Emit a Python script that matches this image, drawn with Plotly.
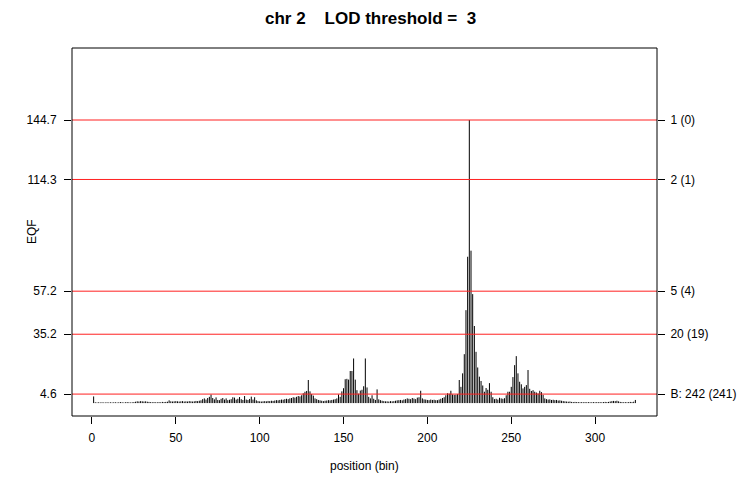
import plotly.graph_objects as go

# ---- data ----
bins = list(range(1, 325))
eqf = [
    3.4, 0.4, 0.3, 0.4, 0.3, 0.4, 0.3, 0.3, 0.4, 0.3,
    0.4, 0.3, 0.4, 0.4, 0.3, 0.4, 0.5, 0.4, 0.3, 0.4,
    0.5, 0.4, 0.3, 0.4, 0.5, 0.7, 0.9, 0.8, 1.0, 0.9,
    0.8, 0.9, 0.7, 0.6, 0.5, 0.4, 0.5, 0.4, 0.4, 0.5,
    0.4, 0.6, 0.5, 0.6, 0.7, 1.4, 0.9, 0.8, 0.9, 1.0,
    0.9, 0.8, 0.9, 1.0, 0.8, 0.9, 0.8, 1.0, 0.9, 0.8,
    0.9, 1.1, 1.0, 1.2, 1.4, 2.0, 2.4, 1.8, 2.6, 3.2,
    4.4, 2.6, 1.9, 2.9, 1.6, 1.5, 2.2, 2.6, 1.8, 2.4,
    1.5, 1.7, 2.0, 3.0, 2.8, 1.8, 2.2, 3.1, 2.0, 1.6,
    3.6, 1.8, 1.6, 2.1, 3.3, 1.8, 3.0, 1.4, 1.0, 0.9,
    0.8, 0.9, 1.0, 0.9, 1.1, 1.0, 1.2, 1.1, 1.3, 1.5,
    1.4, 1.6, 1.8, 1.7, 2.0, 2.2, 2.0, 2.4, 2.6, 3.0,
    2.8, 3.2, 3.6, 3.4, 4.0, 5.0, 5.8, 6.2, 11.8, 6.0,
    4.6, 3.8, 2.4, 2.0, 1.6, 1.4, 1.2, 1.0, 1.2, 1.3,
    1.5, 1.4, 1.6, 1.8, 2.0, 2.4, 4.4, 3.2, 6.0, 7.6,
    12.2, 12.4, 12.0, 16.4, 16.4, 22.8, 12.0, 6.6, 4.8, 6.4,
    6.8, 8.6, 22.8, 8.0, 3.2, 2.4, 4.0, 2.2, 1.6, 7.0,
    1.9, 1.5, 1.2, 1.0, 0.9, 0.9, 0.8, 1.0, 0.9, 1.0,
    1.2, 1.4, 1.5, 1.6, 1.4, 1.8, 2.0, 2.4, 2.2, 2.0,
    2.6, 2.3, 2.0, 2.8, 3.0, 6.3, 2.4, 1.9, 1.8, 1.6,
    1.5, 1.8, 1.6, 1.7, 1.5, 1.5, 1.8, 2.2, 2.6, 3.0,
    4.0, 5.0, 4.8, 6.3, 4.4, 4.2, 4.3, 4.6, 11.8, 8.3,
    15.2, 25.0, 47.5, 74.8, 144.7, 77.9, 55.7, 39.4, 26.2, 18.2,
    13.5, 11.3, 9.0, 5.8, 7.7, 6.8, 10.2, 5.8, 3.0, 2.0,
    2.2, 1.8, 2.7, 2.4, 2.2, 2.5, 4.0, 5.8, 5.8, 8.3,
    13.3, 19.4, 24.0, 15.2, 10.9, 9.6, 7.5, 8.3, 9.2, 16.9,
    7.3, 6.2, 6.6, 5.8, 5.4, 4.9, 6.3, 5.6, 4.2, 2.4,
    2.0, 1.8, 1.9, 1.6, 1.7, 1.5, 1.6, 1.3, 1.4, 1.2,
    1.0, 0.9, 0.8, 0.7, 0.8, 0.6, 0.5, 0.6, 0.5, 0.5,
    0.4, 0.5, 0.4, 0.5, 0.4, 0.5, 0.4, 0.4, 0.5, 0.4,
    0.5, 0.4, 0.5, 0.4, 0.5, 0.6, 0.5, 0.6, 0.8, 1.0,
    1.1, 1.0, 1.2, 0.9, 0.6, 0.5, 0.4, 0.5, 0.4, 0.5,
    0.6, 0.5, 0.7, 1.6,
]
thresholds = [144.7, 114.3, 57.2, 35.2, 4.6]
left_labels = ["144.7", "114.3", "57.2", "35.2", "4.6"]
right_labels = ["1 (0)", "2 (1)", "5 (4)", "20 (19)", "B: 242 (241)"]
x_ticks = [0, 50, 100, 150, 200, 250, 300]
title_text = "chr 2\u00a0\u00a0\u00a0 LOD threshold =\u00a0 3"

FONT = "Liberation Sans, Arial, sans-serif"
XR = [-11.9, 336.9]
YR = [-6.6, 181.5]

# vertical "h"-type lines
xs, ys = [], []
for b, v in zip(bins, eqf):
    xs += [b, b, None]
    ys += [0, v, None]

fig = go.Figure()
fig.add_trace(go.Scatter(x=xs, y=ys, mode="lines",
                         line=dict(color="black", width=1),
                         hoverinfo="skip", showlegend=False))

# threshold lines (abline) drawn on top as traces
hx, hy = [], []
for t in thresholds:
    hx += [XR[0], XR[1], None]
    hy += [t, t, None]
fig.add_trace(go.Scatter(x=hx, y=hy, mode="lines",
                         line=dict(color="#ff2020", width=1),
                         hoverinfo="skip", showlegend=False))

fig.add_trace(go.Scatter(x=[bins[0]], y=[thresholds[-1]], yaxis="y2",
                         mode="markers", marker=dict(opacity=0),
                         hoverinfo="skip", showlegend=False))

fig.update_layout(
    width=748, height=479,
    margin=dict(l=72, r=83, t=48, b=63),
    paper_bgcolor="white", plot_bgcolor="white",
    font=dict(family=FONT, size=12, color="black"),
    xaxis=dict(range=XR, tickvals=x_ticks, ticks="outside",
               ticklen=7, tickcolor="black", showgrid=False, zeroline=False,
               showline=False, ticklabelstandoff=4,
               tickfont=dict(family=FONT, size=12, color="black")),
    yaxis=dict(range=YR, tickvals=thresholds, ticktext=left_labels,
               ticks="outside", ticklen=7, tickcolor="black", showgrid=False,
               zeroline=False, showline=False, ticklabelstandoff=5,
               tickfont=dict(family=FONT, size=12, color="black")),
    yaxis2=dict(range=YR, overlaying="y", side="right", tickvals=thresholds,
                ticktext=right_labels, ticks="outside", ticklen=7,
                tickcolor="black", showgrid=False, zeroline=False,
                showline=False, ticklabelstandoff=3,
                tickfont=dict(family=FONT, size=12, color="black")),
)

fig.add_shape(type="rect", xref="paper", yref="paper", x0=0, x1=1,
              y0=0, y1=1, layer="above", line=dict(color="black", width=1))

fig.add_annotation(text="<b>" + title_text + "</b>", xref="paper", yref="paper",
                   x=0.5, y=1, xanchor="center", yanchor="middle", yshift=30,
                   xshift=6,
                   showarrow=False, font=dict(family=FONT, size=17, color="black"))
fig.add_annotation(text="position (bin)", xref="paper", yref="paper",
                   x=0.5, y=0, xanchor="center", yanchor="top", yshift=-41,
                   showarrow=False, font=dict(family=FONT, size=12, color="black"))
fig.add_annotation(text="EQF", xref="paper", yref="paper", textangle=-90,
                   x=0, y=0.5, xanchor="center", yanchor="middle", xshift=-40,
                   showarrow=False, font=dict(family=FONT, size=12, color="black"))

fig.write_html("out.html")
